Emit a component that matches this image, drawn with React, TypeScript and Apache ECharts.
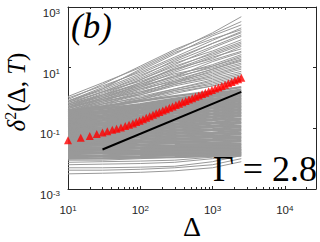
import React, { useEffect, useRef } from "react";
import * as echarts from "echarts";

// Δ positions at which each gray trajectory was read
const GRAY_DELTA = [10, 30, 100, 300, 1000, 2500];

// log10 of δ²(Δ,T) for the individual gray trajectories (read at GRAY_DELTA)
const GRAY_DENSE_LOG10: number[][] = [
  [-0.42, -0.28, -0.1, 0.06, 0.22, 0.36],
  [-0.45, -0.36, -0.2, -0.02, 0.14, 0.27],
  [-0.47, -0.34, -0.24, -0.06, 0.1, 0.22],
  [-0.52, -0.43, -0.26, -0.12, 0.04, 0.16],
  [-0.55, -0.44, -0.32, -0.15, -0.03, 0.1],
  [-0.58, -0.5, -0.35, -0.22, -0.06, 0.06],
  [-0.62, -0.5, -0.41, -0.24, -0.12, 0.0],
  [-0.65, -0.57, -0.43, -0.31, -0.15, -0.04],
  [-0.69, -0.59, -0.49, -0.34, -0.21, -0.1],
  [-0.72, -0.65, -0.51, -0.41, -0.25, -0.16],
  [-0.76, -0.67, -0.58, -0.43, -0.31, -0.2],
  [-0.8, -0.73, -0.59, -0.49, -0.34, -0.26],
  [-0.83, -0.74, -0.66, -0.51, -0.41, -0.29],
  [-0.87, -0.81, -0.68, -0.58, -0.44, -0.36],
  [-0.9, -0.82, -0.74, -0.61, -0.51, -0.39],
  [-0.94, -0.88, -0.76, -0.67, -0.54, -0.46],
  [-0.98, -0.9, -0.82, -0.69, -0.61, -0.49],
  [-1.02, -0.96, -0.84, -0.76, -0.63, -0.56],
  [-1.05, -0.98, -0.9, -0.78, -0.7, -0.59],
  [-1.09, -1.04, -0.93, -0.85, -0.73, -0.67],
  [-1.13, -1.06, -0.99, -0.88, -0.81, -0.71],
  [-1.17, -1.12, -1.02, -0.95, -0.84, -0.79],
  [-1.2, -1.14, -1.08, -0.98, -0.92, -0.83],
  [-1.24, -1.2, -1.11, -1.05, -0.95, -0.91],
  [-1.28, -1.22, -1.17, -1.08, -1.03, -0.95],
  [-1.32, -1.28, -1.19, -1.15, -1.06, -1.03],
  [-1.36, -1.31, -1.26, -1.18, -1.14, -1.07],
  [-1.4, -1.37, -1.29, -1.25, -1.18, -1.15],
  [-1.44, -1.39, -1.36, -1.28, -1.25, -1.19],
  [-1.48, -1.45, -1.38, -1.35, -1.29, -1.27],
  [-1.52, -1.48, -1.45, -1.38, -1.36, -1.31],
  [-1.56, -1.54, -1.47, -1.45, -1.4, -1.39],
  [-1.6, -1.56, -1.54, -1.48, -1.47, -1.43],
  [-1.64, -1.62, -1.57, -1.56, -1.51, -1.51],
  [-1.68, -1.64, -1.63, -1.59, -1.58, -1.54],
  [-1.72, -1.71, -1.66, -1.65, -1.61, -1.61],
  [-1.76, -1.73, -1.72, -1.68, -1.68, -1.64],
  [-1.8, -1.79, -1.75, -1.75, -1.71, -1.71],
  [-1.85, -1.82, -1.82, -1.78, -1.78, -1.74],
  [-1.9, -1.89, -1.85, -1.85, -1.81, -1.8],
  [-1.95, -1.93, -1.92, -1.88, -1.87, -1.84],
  [-2.0, -1.99, -1.96, -1.95, -1.91, -1.9],
];

const GRAY_LOWER_LOG10: number[][] = [
  [-2.05, -2.05, -2.0, -1.95, -1.85, -1.7],
  [-2.12, -2.1, -2.08, -2.05, -1.95, -1.8],
  [-2.2, -2.18, -2.16, -2.12, -2.0, -1.85],
  [-2.3, -2.3, -2.28, -2.25, -2.1, -1.9],
  [-2.38, -2.38, -2.35, -2.3, -2.2, -2.0],
  [-2.5, -2.48, -2.45, -2.4, -2.3, -2.1],
];

const GRAY_UPPER_LOG10: number[][] = [
  [0.05, 0.5, 1.0, 1.55, 2.15, 2.68],
  [-0.05, 0.45, 1.05, 1.6, 2.1, 2.52],
  [-0.1, 0.35, 0.9, 1.45, 2.05, 2.41],
  [0.0, 0.4, 0.85, 1.35, 1.9, 2.31],
  [-0.15, 0.3, 0.95, 1.5, 1.95, 2.25],
  [-0.2, 0.2, 0.7, 1.25, 1.8, 2.19],
  [-0.1, 0.3, 0.8, 1.3, 1.8, 2.15],
  [-0.1, 0.25, 0.75, 1.2, 1.7, 2.08],
  [-0.25, 0.15, 0.6, 1.1, 1.65, 2.03],
  [-0.2, 0.2, 0.65, 1.15, 1.55, 1.92],
  [-0.2, 0.1, 0.5, 1.0, 1.5, 1.85],
  [-0.3, 0.1, 0.6, 1.05, 1.45, 1.8],
  [-0.3, 0.05, 0.5, 0.95, 1.4, 1.75],
  [-0.15, 0.2, 0.55, 0.95, 1.3, 1.7],
  [-0.35, 0.0, 0.45, 0.9, 1.35, 1.62],
  [-0.35, 0.0, 0.4, 0.85, 1.25, 1.54],
  [-0.25, 0.05, 0.4, 0.7, 1.2, 1.5],
  [-0.3, 0.0, 0.35, 0.75, 1.1, 1.43],
  [-0.45, -0.1, 0.3, 0.65, 1.05, 1.38],
  [-0.25, 0.1, 0.45, 0.8, 1.05, 1.33],
  [-0.4, -0.05, 0.35, 0.7, 1.0, 1.28],
  [-0.5, -0.2, 0.15, 0.55, 0.95, 1.25],
  [-0.4, -0.1, 0.25, 0.6, 0.95, 1.21],
  [-0.45, -0.15, 0.2, 0.5, 0.9, 1.15],
  [-0.35, -0.05, 0.3, 0.55, 0.85, 1.1],
  [-0.3, -0.05, 0.2, 0.5, 0.8, 1.04],
  [-0.45, -0.15, 0.15, 0.45, 0.75, 1.0],
  [-0.5, -0.2, 0.1, 0.45, 0.7, 0.95],
  [-0.4, -0.1, 0.1, 0.4, 0.65, 0.88],
  [-0.55, -0.3, 0.0, 0.3, 0.6, 0.82],
  [-0.5, -0.25, 0.05, 0.3, 0.55, 0.77],
  [-0.5, -0.3, -0.05, 0.25, 0.5, 0.72],
  [-0.45, -0.2, 0.0, 0.25, 0.45, 0.67],
  [-0.55, -0.35, -0.1, 0.15, 0.4, 0.62],
  [-0.5, -0.3, -0.05, 0.2, 0.4, 0.56],
];

// ensemble mean (red triangles)
const RED_DELTA = [
  10, 15, 20, 25, 30, 35, 41, 47, 54, 62, 70, 79, 88, 98, 109, 121, 135, 150,
  166, 184, 205, 227, 252, 280, 311, 345, 383, 425, 472, 524, 582, 646, 717,
  796, 884, 981, 1089, 1209, 1342, 1490, 1654, 1836, 2038, 2262, 2500,
];
const RED_MSD = [
  0.0407, 0.049, 0.0562, 0.0646, 0.0724, 0.0794, 0.0891, 0.0977, 0.107, 0.12,
  0.132, 0.145, 0.162, 0.178, 0.2, 0.224, 0.251, 0.282, 0.316, 0.347, 0.389,
  0.427, 0.479, 0.525, 0.589, 0.646, 0.724, 0.794, 0.891, 0.977, 1.1, 1.2,
  1.35, 1.48, 1.66, 1.82, 2.04, 2.24, 2.51, 2.75, 3.09, 3.39, 3.8, 4.17, 4.68,
];

// black reference line (slope 1)
const FIT_DELTA = [30, 2500];
const FIT_MSD = [0.02, 1.6];

const X_MAJOR = [10, 100, 1000, 10000];
const X_MINOR = [
  20, 30, 40, 50, 60, 70, 80, 90, 200, 300, 400, 500, 600, 700, 800, 900, 2000,
  3000, 4000, 5000, 6000, 7000, 8000, 9000, 20000,
];
const Y_MAJOR = [0.001, 0.1, 10, 1000];

const X_MIN = 10;
const X_MAX = 27000;
const Y_MIN = 0.001;
const Y_MAX = 1000;

const PANEL_TEXT = "(b)";
const GAMMA_TEXT = "Γ = 2.8";

const AXIS_COLOR = "#262626";
const GRAY = "#999999";

const supLabel = (v: number) => {
  const e = Math.round(Math.log10(v));
  return `{b|10}{e|${e}}`;
};

const tickRich = {
  b: {
    fontFamily: "Liberation Sans",
    fontSize: 11.5,
    lineHeight: 12,
    color: AXIS_COLOR,
  },
  e: {
    fontFamily: "Liberation Sans",
    fontSize: 8,
    lineHeight: 3,
    verticalAlign: "top",
    color: AXIS_COLOR,
  },
};

export default function App() {
  const ref = useRef<HTMLDivElement>(null);

  useEffect(() => {
    if (!ref.current) return;
    const chart = echarts.init(ref.current, undefined, { renderer: "svg" });

    const toSeries = (rows: number[][], width: number) =>
      rows.map((row) => ({
        type: "line",
        xAxisIndex: 0,
        yAxisIndex: 0,
        symbol: "none",
        silent: true,
        z: 1,
        lineStyle: { color: GRAY, width },
        data: GRAY_DELTA.map((d, i) => [d, Math.pow(10, row[i])]),
      }));

    const graySeries = [
      ...toSeries(GRAY_DENSE_LOG10, 2.4),
      ...toSeries(GRAY_LOWER_LOG10, 1),
      ...toSeries(GRAY_UPPER_LOG10, 1),
    ];

    const hiddenAxisBase = {
      type: "log",
      logBase: 10,
      min: X_MIN,
      max: X_MAX,
      splitLine: { show: false },
      axisLabel: { show: false },
    };

    chart.setOption({
      animation: false,
      backgroundColor: "#ffffff",
      grid: {
        left: 68,
        top: 7,
        right: 4,
        bottom: 53,
        containLabel: false,
        outerBoundsMode: "none",
      },
      xAxis: [
        {
          type: "log",
          logBase: 10,
          min: X_MIN,
          max: X_MAX,
          position: "bottom",
          name: "Δ",
          nameLocation: "middle",
          nameGap: 27,
          nameMoveOverlap: false,
          nameTextStyle: {
            fontFamily: "Liberation Serif",
            fontSize: 28,
            lineHeight: 20,
            color: "#000",
          },
          axisLine: { show: true, lineStyle: { color: AXIS_COLOR, width: 1 } },
          axisTick: {
            show: true,
            inside: true,
            length: 3,
            customValues: X_MAJOR,
            lineStyle: { color: AXIS_COLOR },
          },
          axisLabel: {
            show: true,
            margin: 15,
            customValues: X_MAJOR,
            formatter: supLabel,
            rich: tickRich,
            hideOverlap: false,
          },
          splitLine: { show: false },
        },
        {
          ...hiddenAxisBase,
          position: "bottom",
          axisLine: { show: false },
          axisTick: {
            show: true,
            inside: true,
            length: 2,
            customValues: X_MINOR,
            lineStyle: { color: AXIS_COLOR },
          },
        },
        {
          ...hiddenAxisBase,
          position: "top",
          axisLine: { show: true, lineStyle: { color: AXIS_COLOR, width: 1 } },
          axisTick: {
            show: true,
            inside: true,
            length: 3,
            customValues: X_MAJOR,
            lineStyle: { color: AXIS_COLOR },
          },
        },
        {
          ...hiddenAxisBase,
          position: "top",
          axisLine: { show: false },
          axisTick: {
            show: true,
            inside: true,
            length: 2,
            customValues: X_MINOR,
            lineStyle: { color: AXIS_COLOR },
          },
        },
      ],
      yAxis: [
        {
          type: "log",
          logBase: 10,
          min: Y_MIN,
          max: Y_MAX,
          position: "left",
          name: "{i|δ}{s|2}{r|(Δ, }{i|T}{r|)}",
          nameLocation: "middle",
          nameGap: 38,
          nameMoveOverlap: false,
          nameTextStyle: {
            padding: [0, 0, 0, 12],
            rich: {
              i: {
                fontFamily: "Liberation Serif",
                fontStyle: "italic",
                fontSize: 25,
                lineHeight: 28,
                color: "#000",
              },
              r: {
                fontFamily: "Liberation Serif",
                fontSize: 25,
                lineHeight: 28,
                color: "#000",
              },
              s: {
                fontFamily: "Liberation Serif",
                fontSize: 16,
                lineHeight: 17,
                verticalAlign: "top",
                color: "#000",
              },
            },
          },
          axisLine: { show: true, lineStyle: { color: AXIS_COLOR, width: 1 } },
          axisTick: {
            show: true,
            inside: true,
            length: 3,
            customValues: Y_MAJOR,
            lineStyle: { color: AXIS_COLOR },
          },
          axisLabel: {
            show: true,
            margin: 8,
            customValues: Y_MAJOR,
            formatter: supLabel,
            rich: tickRich,
            verticalAlign: "top",
            hideOverlap: false,
          },
          splitLine: { show: false },
        },
        {
          type: "log",
          logBase: 10,
          min: Y_MIN,
          max: Y_MAX,
          position: "right",
          axisLine: { show: true, lineStyle: { color: AXIS_COLOR, width: 1 } },
          axisTick: {
            show: true,
            inside: true,
            length: 3,
            customValues: Y_MAJOR,
            lineStyle: { color: AXIS_COLOR },
          },
          axisLabel: { show: false },
          splitLine: { show: false },
        },
      ],
      series: [
        ...graySeries,
        {
          type: "scatter",
          xAxisIndex: 0,
          yAxisIndex: 0,
          symbol: "triangle",
          symbolSize: 8,
          silent: true,
          clip: false,
          z: 3,
          itemStyle: { color: "#ff0000" },
          data: RED_DELTA.map((d, i) => [d, RED_MSD[i]]),
        },
        {
          type: "line",
          xAxisIndex: 0,
          yAxisIndex: 0,
          symbol: "none",
          silent: true,
          z: 4,
          lineStyle: { color: "#000000", width: 2 },
          data: FIT_DELTA.map((d, i) => [d, FIT_MSD[i]]),
        },
      ],
      graphic: [
        {
          type: "text",
          left: 71,
          top: 9,
          z: 10,
          style: {
            text: PANEL_TEXT,
            fontFamily: "Liberation Serif",
            fontStyle: "italic",
            fontSize: 35,
            fill: "#000",
          },
        },
        {
          type: "text",
          right: 3,
          top: 151,
          z: 10,
          style: {
            text: GAMMA_TEXT,
            fontFamily: "Liberation Serif",
            fontSize: 36,
            lineHeight: 26,
            fill: "#000",
          },
        },
      ],
    });

    return () => chart.dispose();
  }, []);

  return (
    <div
      ref={ref}
      style={{
        position: "fixed",
        left: 0,
        top: 0,
        width: 320,
        height: 242,
        background: "#fff",
      }}
    />
  );
}
